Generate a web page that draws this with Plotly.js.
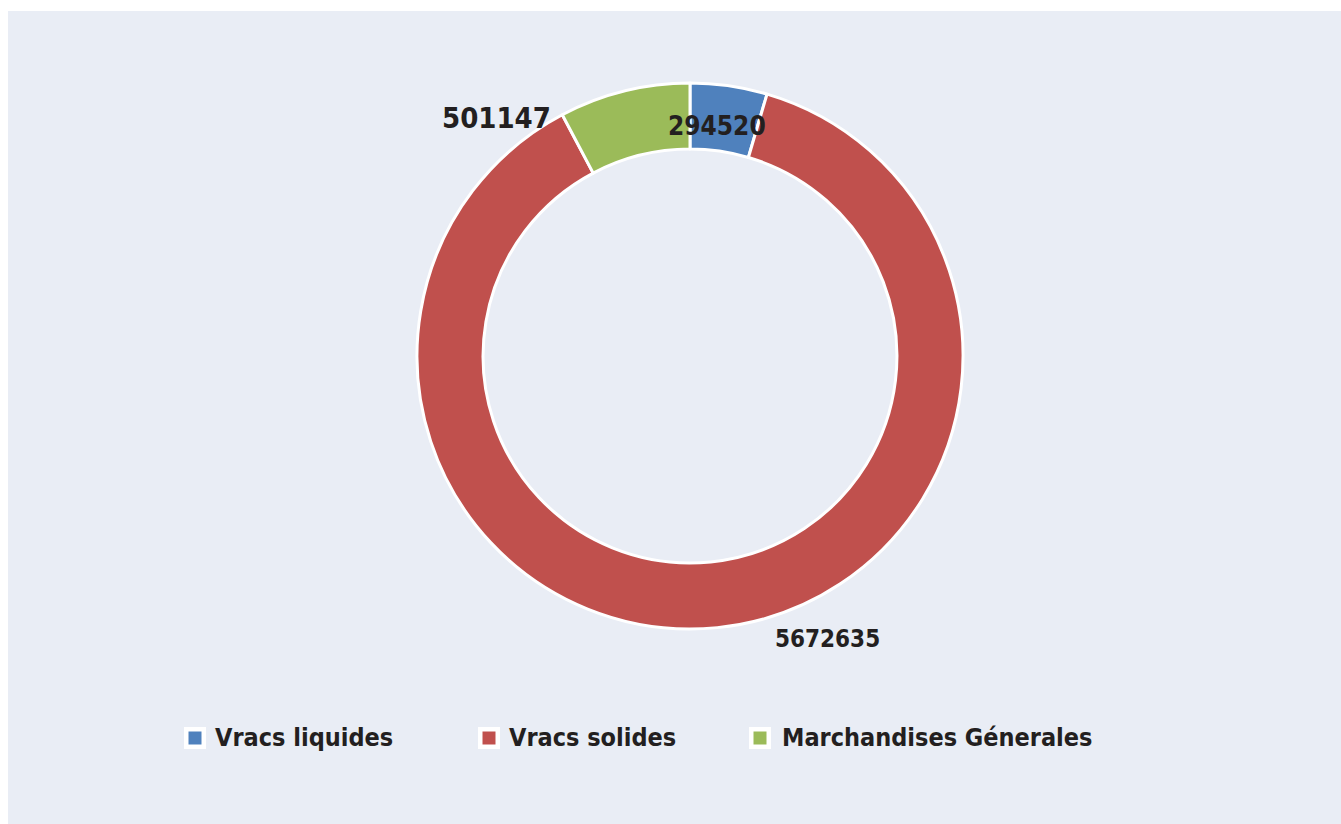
<!DOCTYPE html>
<html>
<head>
<meta charset="utf-8">
<script src="https://cdn.plot.ly/plotly-3.0.1.min.js"></script>
<style>
  html, body { margin: 0; padding: 0; background: #ffffff; width: 1341px; height: 824px; overflow: hidden; }
  #chart { position: absolute; left: 8px; top: 11px; width: 1333px; height: 813px; }
</style>
</head>
<body>
<div id="chart"></div>
<script>
const categories = ["Vracs liquides", "Vracs solides", "Marchandises Génerales"];
const values = [294520, 5672635, 501147];
const colors = ["#4F81BD", "#C0504D", "#9BBB59"];

const FONT = "'Liberation Sans Narrow', 'Arial Narrow', 'DejaVu Sans Condensed', sans-serif";
const W = 1333, H = 813, OX = 8, OY = 11;
const px = x => (x - OX) / W;          // page x -> paper x
const py = y => 1 - (y - OY) / H;      // page y -> paper y

// value label positions (page px centres) and sizes
const labelPos = [
  {x: 717, y: 126, size: 26},
  {x: 827, y: 639, size: 24},
  {x: 496, y: 118, size: 29}
];
// legend entries: square centre x and text start x (page px)
const legendPos = [
  {sq: 195, tx: 213},
  {sq: 489, tx: 507},
  {sq: 760, tx: 780}
];
const legendY = 738;

const cx = 690, cy = 356, R = 273;
const trace = {
  type: "pie",
  labels: categories,
  values: values,
  sort: false,
  direction: "clockwise",
  rotation: 0,
  hole: 0.758,
  textinfo: "none",
  hoverinfo: "label+value",
  marker: { colors: colors, line: { color: "#ffffff", width: 3 } },
  domain: { x: [px(cx - R), px(cx + R)], y: [py(cy + R), py(cy - R)] }
};

const annotations = values.map((v, i) => ({
  xref: "paper", yref: "paper",
  x: px(labelPos[i].x), y: py(labelPos[i].y),
  xanchor: "center", yanchor: "middle",
  text: "<b>" + String(v) + "</b>",
  showarrow: false,
  font: { family: FONT, size: labelPos[i].size, color: "#231F20" }
}));

categories.forEach((c, i) => {
  annotations.push({
    xref: "paper", yref: "paper",
    x: px(legendPos[i].tx), y: py(legendY - 1),
    xanchor: "left", yanchor: "middle",
    text: "<b>" + c + "</b>",
    showarrow: false,
    font: { family: FONT, size: 25, color: "#231F20" }
  });
});

const half = 8.75;
const shapes = categories.map((c, i) => ({
  type: "rect", xref: "paper", yref: "paper",
  x0: px(legendPos[i].sq - half), x1: px(legendPos[i].sq + half),
  y0: py(legendY + half), y1: py(legendY - half),
  fillcolor: colors[i],
  line: { color: "#ffffff", width: 4.5 }
}));

const layout = {
  width: W, height: H,
  margin: { l: 0, r: 0, t: 0, b: 0 },
  paper_bgcolor: "#E9EDF5",
  plot_bgcolor: "#E9EDF5",
  showlegend: false,
  annotations: annotations,
  shapes: shapes
};

Plotly.newPlot("chart", [trace], layout, { displayModeBar: false, staticPlot: true });
</script>
</body>
</html>
